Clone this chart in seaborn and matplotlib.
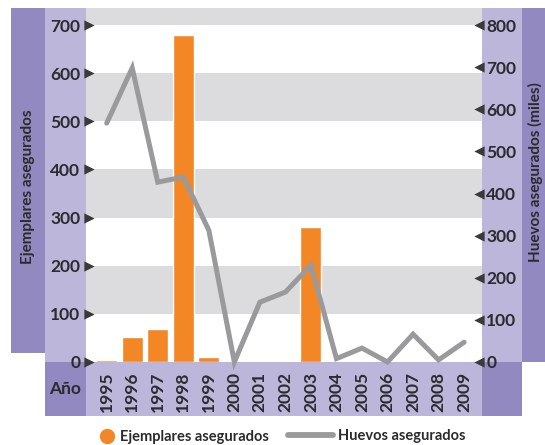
import numpy as np
import pandas as pd
import matplotlib
matplotlib.use("Agg")
import matplotlib.pyplot as plt
import seaborn as sns
from matplotlib.patches import Rectangle
from matplotlib.lines import Line2D
from matplotlib.transforms import ScaledTranslation

# datos
years = ["1995", "1996", "1997", "1998", "1999", "2000", "2001", "2002",
         "2003", "2004", "2005", "2006", "2007", "2008", "2009"]
ejemplares = [4, 52, 69, 680, 10, 0, 0, 0, 280, 0, 0, 0, 0, 0, 0]
huevos = [567, 698, 427, 439, 313, 0, 142, 166, 230, 8, 33, 0, 66, 5, 47]
left_ticks = [0, 100, 200, 300, 400, 500, 600, 700]
right_ticks = [0, 100, 200, 300, 400, 500, 600, 700, 800]

ORANGE = "#F38725"
GREY_LINE = "#9A9A9C"
BAND = "#DCDCDE"
DARK_P = "#9289C1"
LIGHT_P = "#BDB6DB"
TXT = "#2B2A2C"

sns.set_style("white")
plt.rcParams["font.family"] = ["Lato", "DejaVu Sans"]

W, H = 545, 445
fig = plt.figure(figsize=(W / 100, H / 100), dpi=100)


def px_rect(x0, y0, x1, y1, color):
    fig.add_artist(Rectangle((x0 / W, 1 - y1 / H), (x1 - x0) / W, (y1 - y0) / H,
                             transform=fig.transFigure, color=color, lw=0, zorder=0))


# paneles morados
px_rect(11, 8, 45, 353, DARK_P)
px_rect(45, 8, 86, 362, LIGHT_P)
px_rect(45, 362, 86, 416, DARK_P)
px_rect(86, 362, 482, 416, LIGHT_P)
px_rect(482, 8, 522, 362, LIGHT_P)
px_rect(522, 8, 545, 362, DARK_P)
px_rect(482, 362, 522, 416, DARK_P)

ax = fig.add_axes([86 / W, 1 - 362 / H, (482 - 86) / W, (362 - 8) / H])
ax.set_facecolor("white")
ytop = 354 / 337 * 700
for lo in [100, 300, 500, 700]:
    ax.axhspan(lo, min(lo + 100, ytop + 10), color=BAND, lw=0, zorder=0)

df = pd.DataFrame({"year": years, "ejemplares": ejemplares, "huevos": huevos})
sns.barplot(data=df, x="year", y="ejemplares", color=ORANGE, saturation=1,
            width=0.82, ax=ax, zorder=2)
ax.set_ylim(0, ytop)
ax.set_xlim(-0.81, 14.7)

ax2 = ax.twinx()
sns.lineplot(x=np.arange(len(years)), y=df["huevos"], color=GREY_LINE, lw=3.6,
             ax=ax2, clip_on=False, solid_joinstyle="miter")
ax2.set_ylim(0, ytop * 8 / 7)

for a in (ax, ax2):
    for s in a.spines.values():
        s.set_visible(False)
    a.set_xlabel("")
    a.set_ylabel("")

FS = 12.5
ax.set_yticks(left_ticks)
ax.set_yticklabels([str(t) for t in left_ticks], fontsize=FS, fontweight="bold", color=TXT)
ax.tick_params(axis="y", length=0, pad=4)
ax.tick_params(axis="x", length=0, pad=7)
ax.set_xticks(range(len(years)))
ax.set_xticklabels(years, rotation=90, fontsize=FS, fontweight="bold", color=TXT, va="top")

ax2.set_yticks(right_ticks)
ax2.set_yticklabels([str(t) for t in right_ticks], fontsize=FS, fontweight="bold", color=TXT)
ax2.tick_params(axis="y", length=0, pad=3)

# triangulos de las marcas
tl = ax.get_yaxis_transform() + ScaledTranslation(2.5 / 100, 0, fig.dpi_scale_trans)
ax.scatter(np.zeros(len(left_ticks)), left_ticks, marker=">", s=55, color="#3A3A3A",
           transform=tl, clip_on=False, zorder=5, linewidths=0)
tr = ax2.get_yaxis_transform() + ScaledTranslation(-3 / 100, 0, fig.dpi_scale_trans)
ax2.scatter(np.ones(len(right_ticks)), right_ticks, marker="<", s=55, color="#3A3A3A",
            transform=tr, clip_on=False, zorder=5, linewidths=0)

# rotulos
fig.text(28 / W, 1 - 187 / H, "Ejemplares asegurados", rotation=90, ha="center", va="center",
         fontsize=11, fontweight="bold", color=TXT)
fig.text(535 / W, 1 - 172 / H, "Huevos asegurados (miles)", rotation=90, ha="center", va="center",
         fontsize=11, fontweight="bold", color=TXT)
fig.text(65 / W, 1 - 389 / H, "Año", ha="center", va="center",
         fontsize=FS, fontweight="bold", color=TXT)

# leyenda
lp = {"weight": "bold", "size": 10.5}
fig.legend([Line2D([], [], marker="o", color=ORANGE, ls="none", markersize=10)],
           ["Ejemplares asegurados"], loc="center left",
           bbox_to_anchor=(100 / W, 1 - 437 / H), frameon=False, prop=lp,
           handlelength=1.0, handletextpad=0.4, borderpad=0, borderaxespad=0,
           labelcolor=TXT)
fig.legend([Line2D([], [], color=GREY_LINE, lw=4.2)],
           ["Huevos asegurados"], loc="center left",
           bbox_to_anchor=(288 / W, 1 - 436 / H), frameon=False, prop=lp,
           handlelength=3.1, handletextpad=0.35, borderpad=0, borderaxespad=0,
           labelcolor=TXT)

fig.savefig("out.png", dpi=100)
